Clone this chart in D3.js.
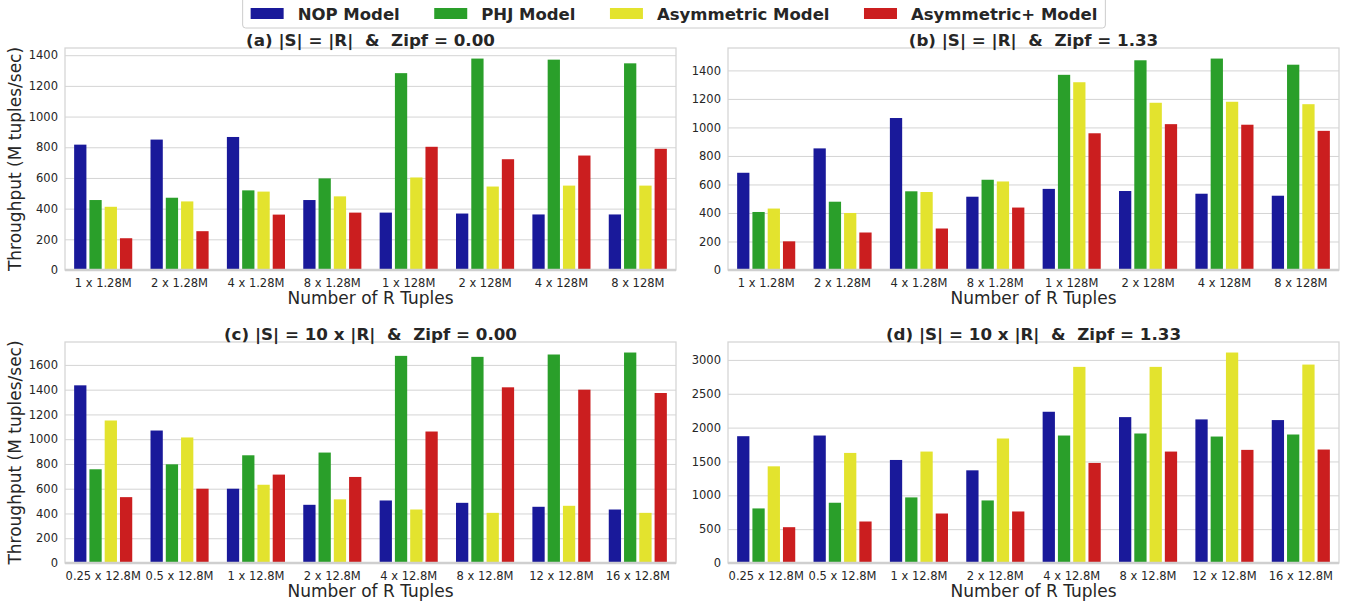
<!DOCTYPE html>
<html>
<head>
<meta charset="utf-8">
<script src="https://cdn.jsdelivr.net/npm/d3@7"></script>
<style>
  body { margin: 0; background: #fff; }
  svg { display: block; font-family: "DejaVu Sans", sans-serif; }
</style>
</head>
<body>
<svg id="chart" width="1348" height="604"></svg>
<script>
const seriesNames = ["NOP Model", "PHJ Model", "Asymmetric Model", "Asymmetric+ Model"];
const seriesColors = ["#19199a", "#2a9f2a", "#e3e32e", "#cb1e1f"];

const catsSmall = ["1 x 1.28M", "2 x 1.28M", "4 x 1.28M", "8 x 1.28M", "1 x 128M", "2 x 128M", "4 x 128M", "8 x 128M"];
const catsLarge = ["0.25 x 12.8M", "0.5 x 12.8M", "1 x 12.8M", "2 x 12.8M", "4 x 12.8M", "8 x 12.8M", "12 x 12.8M", "16 x 12.8M"];

// values per series, one entry per category
const panelA = [
  [817, 850, 867, 456, 374, 368, 362, 362],
  [456, 471, 519, 597, 1283, 1378, 1371, 1347],
  [412, 447, 511, 480, 603, 544, 550, 550],
  [207, 253, 361, 374, 803, 722, 746, 790]
];
const panelB = [
  [682, 853, 1066, 514, 569, 554, 535, 521],
  [407, 479, 552, 633, 1369, 1471, 1483, 1440],
  [431, 400, 547, 621, 1317, 1173, 1180, 1163],
  [201, 263, 291, 438, 959, 1023, 1019, 976]
];
const panelC = [
  [1435, 1070, 600, 470, 505, 486, 454, 432],
  [757, 797, 870, 892, 1673, 1665, 1684, 1700],
  [1151, 1014, 632, 514, 432, 405, 462, 405],
  [532, 600, 714, 695, 1062, 1419, 1400, 1373]
];
const panelD = [
  [1873, 1883, 1522, 1369, 2234, 2155, 2121, 2111],
  [806, 890, 969, 924, 1883, 1913, 1868, 1898],
  [1428, 1626, 1646, 1839, 2897, 2897, 3109, 2931],
  [529, 613, 731, 761, 1478, 1646, 1671, 1676]
];

const ticksA = [0, 200, 400, 600, 800, 1000, 1200, 1400];
const ticksB = [0, 200, 400, 600, 800, 1000, 1200, 1400];
const ticksC = [0, 200, 400, 600, 800, 1000, 1200, 1400, 1600];
const ticksD = [0, 500, 1000, 1500, 2000, 2500, 3000];

const panels = [
  { title: "(a) |S| = |R|  &  Zipf = 0.00", cats: catsSmall, data: panelA, ticks: ticksA, left: 65, right: 676, top: 48, bottom: 270, ylabel: true },
  { title: "(b) |S| = |R|  &  Zipf = 1.33", cats: catsSmall, data: panelB, ticks: ticksB, left: 728, right: 1339, top: 48, bottom: 270, ylabel: false },
  { title: "(c) |S| = 10 x |R|  &  Zipf = 0.00", cats: catsLarge, data: panelC, ticks: ticksC, left: 65, right: 676, top: 342, bottom: 563, ylabel: true },
  { title: "(d) |S| = 10 x |R|  &  Zipf = 1.33", cats: catsLarge, data: panelD, ticks: ticksD, left: 728, right: 1339, top: 342, bottom: 563, ylabel: false }
];

const svg = d3.select("#chart");
const textColor = "#262626";
const gridColor = "#d4d4d4";

panels.forEach(p => {
  const g = svg.append("g");
  const maxVal = d3.max(p.data, s => d3.max(s));

  const x = d3.scaleBand()
    .domain(p.cats)
    .range([p.left, p.right])
    .paddingInner(0.2)
    .paddingOuter(0.1);

  const xs = d3.scaleBand()
    .domain(d3.range(seriesNames.length))
    .range([0, x.bandwidth()]);

  const y = d3.scaleLinear()
    .domain([0, maxVal * 1.05])
    .range([p.bottom, p.top]);

  // grid
  g.append("g")
    .attr("transform", `translate(${p.left},0)`)
    .call(d3.axisLeft(y).tickValues(p.ticks).tickFormat(d3.format("d"))
      .tickSize(-(p.right - p.left)).tickPadding(7))
    .call(a => a.select(".domain").remove())
    .call(a => a.selectAll(".tick line").attr("stroke", gridColor).attr("stroke-width", 1))
    .call(a => a.selectAll(".tick text")
      .attr("fill", textColor).style("font-size", "11.5px").style("font-family", "DejaVu Sans"));

  // bars
  p.data.forEach((vals, si) => {
    g.append("g")
      .attr("fill", seriesColors[si])
      .selectAll("rect")
      .data(vals)
      .join("rect")
      .attr("x", (d, i) => x(p.cats[i]) + xs(si) + 1.5)
      .attr("width", xs.bandwidth() - 3)
      .attr("y", d => y(d))
      .attr("height", d => y(0) - y(d));
  });

  // frame
  g.append("rect")
    .attr("x", p.left).attr("y", p.top)
    .attr("width", p.right - p.left).attr("height", p.bottom - p.top)
    .attr("fill", "none").attr("stroke", gridColor).attr("stroke-width", 1.25);
  g.append("line")
    .attr("x1", p.left).attr("x2", p.right)
    .attr("y1", p.bottom).attr("y2", p.bottom)
    .attr("stroke", "#cfcfcf").attr("stroke-width", 2.5);

  // x axis
  g.append("g")
    .attr("transform", `translate(0,${p.bottom})`)
    .call(d3.axisBottom(x).tickSize(0).tickPadding(9))
    .call(a => a.select(".domain").remove())
    .call(a => a.selectAll(".tick text")
      .attr("fill", textColor).style("font-size", "11.5px").style("font-family", "DejaVu Sans"));

  g.append("text")
    .attr("x", (p.left + p.right) / 2)
    .attr("y", p.bottom + 34)
    .attr("text-anchor", "middle")
    .attr("fill", textColor)
    .style("font-size", "17px")
    .text("Number of R Tuples");

  g.append("text")
    .attr("x", (p.left + p.right) / 2)
    .attr("y", p.top - 2)
    .attr("text-anchor", "middle")
    .attr("fill", textColor)
    .style("font-size", "16.7px")
    .style("font-weight", "bold")
    .style("white-space", "pre")
    .attr("xml:space", "preserve")
    .text(p.title);

  if (p.ylabel) {
    g.append("text")
      .attr("transform", `translate(21,${(p.top + p.bottom) / 2}) rotate(-90)`)
      .attr("text-anchor", "middle")
      .attr("fill", textColor)
      .style("font-size", "17px")
      .text("Throughput (M tuples/sec)");
  }
});

// legend
const legend = svg.append("g");
const items = legend.selectAll("g").data(seriesNames).join("g");
items.append("rect")
  .attr("width", 33).attr("height", 11)
  .attr("y", 8)
  .attr("fill", (d, i) => seriesColors[i]);
items.append("text")
  .attr("x", 47).attr("y", 19.5)
  .attr("fill", textColor)
  .style("font-size", "16.5px")
  .style("font-weight", "bold")
  .text(d => d);

let cursor = 0;
items.each(function () {
  const w = d3.select(this).select("text").node().getComputedTextLength();
  d3.select(this).attr("transform", `translate(${cursor},0)`);
  cursor += 47 + w + 34.5;
});
const legendW = cursor - 34.5 + 16;
const legendX = 674 - legendW / 2;
legend.insert("rect", ":first-child")
  .attr("x", -8).attr("y", -3)
  .attr("width", legendW).attr("height", 31)
  .attr("rx", 3)
  .attr("fill", "#fff")
  .attr("stroke", "#cccccc");
legend.attr("transform", `translate(${legendX + 8},0)`);
</script>
</body>
</html>
